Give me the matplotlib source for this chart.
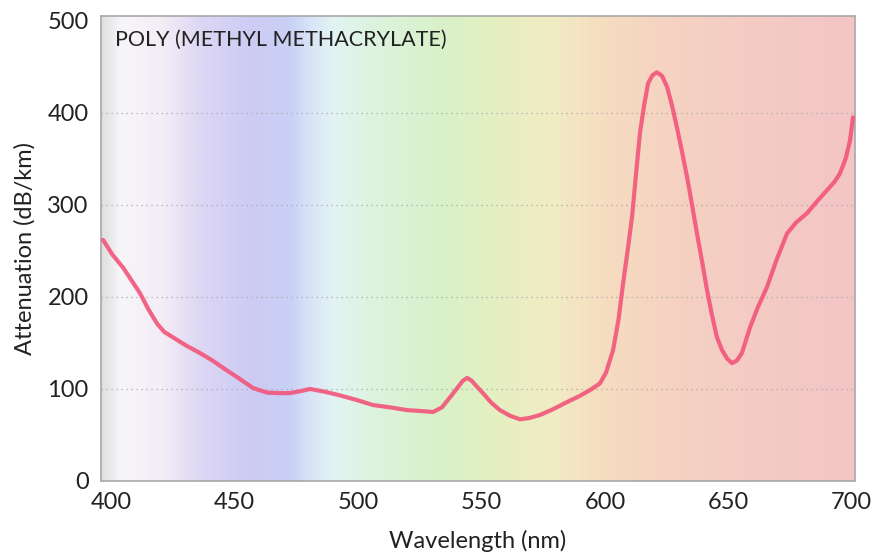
import numpy as np
import matplotlib

matplotlib.use("Agg")
import matplotlib.pyplot as plt
from matplotlib.colors import LinearSegmentedColormap

# attenuation spectrum of PMMA fibre
wavelength = [396.7, 400.5, 404.8, 408.5, 411.7, 415.0, 418.6, 421.5, 425.1, 430.5,
              436.0, 441.0, 445.3, 451.5, 457.5, 463.2, 468.0, 472.5, 476.5, 480.6,
              486.5, 492.7, 499.5, 506.1, 513.0, 519.9, 525.5, 530.4, 534.0, 537.3,
              540.5, 542.5, 544.2, 546.0, 548.0, 550.6, 554.0, 557.5, 561.5, 565.6,
              569.5, 573.7, 579.0, 584.7, 589.5, 594.0, 598.0, 600.5, 603.3, 605.5,
              607.4, 609.3, 611.0, 612.6, 614.2, 616.0, 617.5, 619.3, 621.1, 623.2,
              625.2, 627.2, 629.2, 631.3, 633.3, 635.3, 637.3, 639.4, 641.4, 643.4,
              645.4, 647.5, 649.5, 651.5, 653.5, 655.5, 658.8, 662.0, 665.7, 669.5,
              673.8, 677.5, 681.9, 686.0, 690.0, 693.0, 695.2, 697.5, 699.3, 700.5]
attenuation = [262, 246, 232, 217, 204, 187, 171, 162, 156, 147,
               139, 131, 123, 112, 101, 96, 95.5, 95.5, 97.5, 100,
               97, 93, 88, 82.5, 80, 77, 76, 75, 80, 91,
               102, 109, 112, 109, 103, 95.5, 85, 77, 71, 67,
               68.5, 71.7, 78, 85.8, 92, 98.8, 106, 118, 142, 175,
               215, 252, 287, 333, 378, 410, 432, 441, 444, 440,
               428, 408, 384, 357, 330, 300, 269, 238, 207, 180,
               156, 142, 133, 128, 131, 139, 167, 189, 211, 240,
               269, 281, 291, 304, 316, 325, 334, 350, 370, 395]

x_ticks = [400, 450, 500, 550, 600, 650, 700]
y_ticks = [0, 100, 200, 300, 400, 500]

# pastel spectrum behind the curve (position along x axis, colour)
bg_stops = [(0.00, "#e0e0e0"), (0.025, "#f7f6f9"), (0.08, "#f4edf6"),
            (0.13, "#ddd7f4"), (0.20, "#cdcbf4"), (0.25, "#c9d0f6"),
            (0.28, "#dbe6f7"), (0.31, "#e2f4f2"), (0.36, "#ddf3df"),
            (0.45, "#d9f1c9"), (0.52, "#e4f0c2"), (0.60, "#f1ecc4"),
            (0.67, "#f6dcc0"), (0.78, "#f5d0c2"), (1.00, "#f3c5c6")]

plt.rcParams["font.family"] = ["Lato", "DejaVu Sans"]

fig = plt.figure(figsize=(8.76, 5.58), dpi=100)
ax = fig.add_axes([0.1153, 0.138, 0.8607, 0.833])

xlim = (395.9, 701.3)
ylim = (0, 505)
cmap = LinearSegmentedColormap.from_list("spec", bg_stops)
ax.imshow(np.linspace(0, 1, 512)[None, :], cmap=cmap, aspect="auto",
          extent=[xlim[0], xlim[1], ylim[0], ylim[1]], zorder=0)

for yv in y_ticks[1:-1]:
    ax.axhline(yv, color="#aaaaaa", lw=0.9, ls=(0, (1, 3)), zorder=1)

ax.plot(wavelength, attenuation, color="#f2557a", lw=3, alpha=0.9,
        solid_capstyle="round", solid_joinstyle="round", zorder=3)

ax.set_xlim(*xlim)
ax.set_ylim(*ylim)
ax.set_xticks(x_ticks)
ax.set_yticks(y_ticks)
ax.tick_params(length=0, labelsize=17, colors="#222222")
ax.tick_params(axis="x", pad=8)
ax.tick_params(axis="y", pad=9)
for s in ax.spines.values():
    s.set_color("#a8a8a8")
    s.set_linewidth(1.2)

ax.set_xlabel("Wavelength (nm)", fontsize=17, color="#222222", labelpad=12)
ax.set_ylabel("Attenuation (dB/km)", fontsize=17, color="#222222", labelpad=8)
ax.text(0.019, 0.95, "POLY (METHYL METHACRYLATE)", transform=ax.transAxes,
        fontsize=15.5, color="#222222", va="center", ha="left")

fig.savefig("out.png", dpi=100)
